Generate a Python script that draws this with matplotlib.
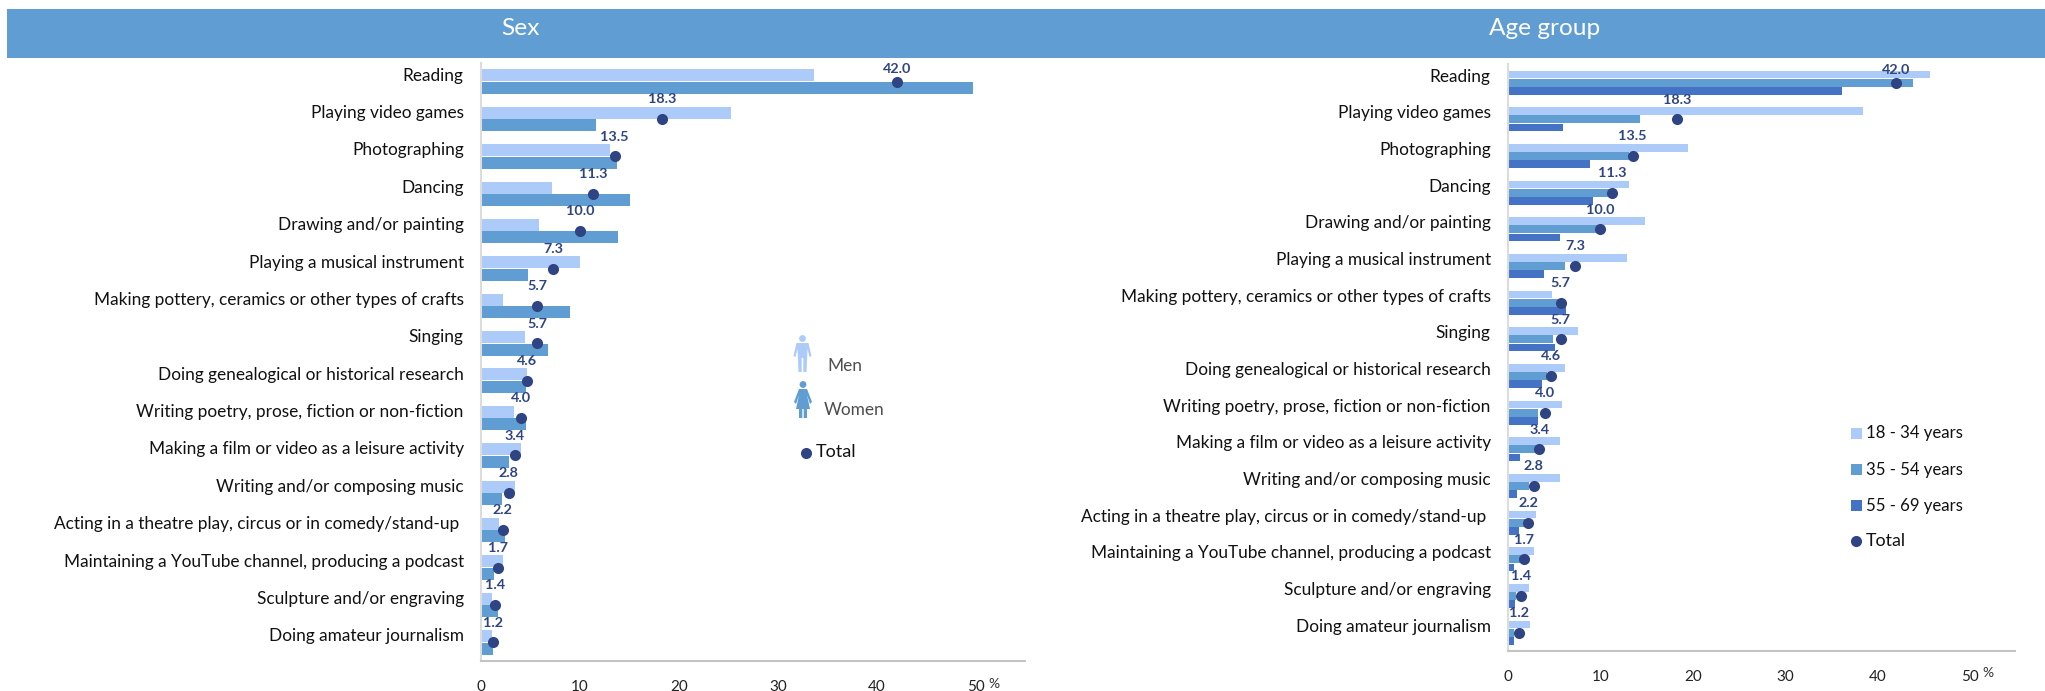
import numpy as np
import matplotlib
matplotlib.use('Agg')
import matplotlib.pyplot as plt
from matplotlib.patches import Circle, Polygon, Rectangle
from matplotlib.transforms import ScaledTranslation

plt.rcParams['font.family'] = ['Lato', 'DejaVu Sans']

''' values read from the picture '''
activities = ['Reading', 'Playing video games', 'Photographing', 'Dancing',
              'Drawing and/or painting', 'Playing a musical instrument',
              'Making pottery, ceramics or other types of crafts', 'Singing',
              'Doing genealogical or historical research',
              'Writing poetry, prose, fiction or non-fiction',
              'Making a film or video as a leisure activity',
              'Writing and/or composing music',
              'Acting in a theatre play, circus or in comedy/stand-up ',
              'Maintaining a YouTube channel, producing a podcast',
              'Sculpture and/or engraving', 'Doing amateur journalism']

total = [42.0, 18.3, 13.5, 11.3, 10.0, 7.3, 5.7, 5.7, 4.6, 4.0, 3.4, 2.8, 2.2, 1.7, 1.4, 1.2]

men = [33.6, 25.3, 13.0, 7.2, 5.9, 10.0, 2.2, 4.4, 4.6, 3.3, 4.0, 3.4, 1.8, 2.2, 1.1, 1.1]
women = [49.7, 11.6, 13.75, 15.1, 13.8, 4.7, 9.0, 6.8, 4.5, 4.5, 2.8, 2.1, 2.4, 1.3, 1.7, 1.25]

age_18_34 = [45.7, 38.4, 19.5, 13.1, 14.8, 12.9, 4.8, 7.6, 6.2, 5.8, 5.6, 5.6, 3.0, 2.8, 2.3, 2.4]
age_35_54 = [43.8, 14.3, 13.1, 11.3, 9.7, 6.2, 5.6, 4.9, 4.2, 3.2, 3.2, 2.3, 1.8, 1.4, 0.9, 0.7]
age_55_69 = [36.1, 5.9, 8.9, 9.2, 5.6, 3.9, 6.3, 5.1, 3.7, 3.2, 1.3, 1.0, 1.2, 0.7, 0.8, 0.6]

x_ticks = [0, 10, 20, 30, 40, 50]

LIGHT = '#adcbf8'
MID = '#5f9dd2'
DARK = '#4472c4'
NAVY = '#2f4583'
BANNER = '#609dd2'

W, H = 2045, 691
fig = plt.figure(figsize=(W/100., H/100.), dpi=100)


def add_panel(left, right, top, bottom, xmax, series, colors, bar_h):
    ax = fig.add_axes([left/W, 1-bottom/H, (right-left)/W, (bottom-top)/H])
    y = np.arange(len(activities))
    n = len(series)
    for k in range(n):
        ax.barh(y + (k-(n-1)/2.)*bar_h, series[k], height=bar_h*0.96, color=colors[k], zorder=2)
    ax.plot(total, y, 'o', color=NAVY, ms=8, mew=0, zorder=4)
    for i in range(len(total)):
        # the first label sits closer to its dot in the original
        off = 9.4 if i == 0 else 14.2
        ax.annotate('%.1f' % total[i], (total[i], y[i]), xytext=(0, off), textcoords='offset points',
                    ha='center', va='center', fontsize=10.4, fontweight='bold', color=NAVY, zorder=5)
    ax.set_ylim(len(activities)-0.5, -0.5)
    ax.set_xlim(0, xmax)
    ax.set_xticks(x_ticks)
    ax.set_yticks(y)
    ax.set_yticklabels(activities, fontsize=12.4, color='#111111')
    ax.tick_params(axis='y', length=0, pad=12.5)
    up = ScaledTranslation(0, 6/100., fig.dpi_scale_trans)
    for lab in ax.get_yticklabels():
        lab.set_verticalalignment('center')
        lab.set_transform(lab.get_transform() + up)
    ax.tick_params(axis='x', length=0, pad=14, labelsize=11, labelcolor='#222222')
    ax.spines['top'].set_visible(False)
    ax.spines['right'].set_visible(False)
    ax.spines['left'].set_color('#dcdcdc')
    ax.spines['left'].set_linewidth(1.5)
    ax.spines['bottom'].set_color('#c4c4c4')
    ax.spines['bottom'].set_linewidth(1.5)
    return ax


axL = add_panel(481, 1025, 63, 661, (1025-481)/9.9, [men, women], [LIGHT, MID], 0.335)
axR = add_panel(1508, 2015, 64.3, 651, (2015-1508)/9.24, [age_18_34, age_35_54, age_55_69],
                [LIGHT, MID, DARK], 0.222)

# overlay in pixel coordinates for banner, legends and the loose texts
ov = fig.add_axes([0, 0, 1, 1], zorder=10)
ov.set_xlim(0, W)
ov.set_ylim(H, 0)
ov.axis('off')
ov.patch.set_alpha(0)

ov.add_patch(Rectangle((7, 9), W-7, 49, color=BANNER, lw=0))
ov.text(520, 28, 'Sex', color='white', fontsize=17.6, ha='center', va='center')
ov.text(1545, 28, 'Age group', color='white', fontsize=17.6, ha='center', va='center')

ov.text(994, 684, '%', fontsize=10, ha='center', va='center', color='#333333')
ov.text(1988, 673, '%', fontsize=10, ha='center', va='center', color='#333333')


def person(cx, top, col, woman=False):
    ov.add_patch(Circle((cx, top+3.5), 3.4, color=col, lw=0))
    if woman:
        body = [(cx-4, top+8), (cx+4, top+8), (cx+9, top+21), (cx+7, top+23), (cx+4, top+14),
                (cx+7, top+28), (cx+4, top+28), (cx+4, top+37), (cx+0.7, top+37), (cx+0.7, top+28),
                (cx-0.7, top+28), (cx-0.7, top+37), (cx-4, top+37), (cx-4, top+28), (cx-7, top+28),
                (cx-4, top+14), (cx-7, top+23), (cx-9, top+21)]
    else:
        body = [(cx-6, top+8), (cx+6, top+8), (cx+9, top+21), (cx+7, top+22), (cx+5, top+14),
                (cx+4, top+37), (cx+0.8, top+37), (cx+0.8, top+23), (cx-0.8, top+23), (cx-0.8, top+37),
                (cx-4, top+37), (cx-5, top+14), (cx-7, top+22), (cx-9, top+21)]
    ov.add_patch(Polygon(body, closed=True, color=col, lw=0))


person(802.5, 335, LIGHT)
person(803, 381, MID, woman=True)
ov.text(827, 366, 'Men', fontsize=12.4, color='#4d4d4d', va='center')
ov.text(824, 410, 'Women', fontsize=12.4, color='#4d4d4d', va='center')
ov.plot([806], [452.5], 'o', color=NAVY, ms=8, mew=0)
ov.text(816, 452, 'Total', fontsize=13, color='#111111', va='center')

leg_y = [433, 469.5, 505.5]
leg_names = ['18 - 34 years', '35 - 54 years', '55 - 69 years']
leg_cols = [LIGHT, MID, DARK]
for k in range(3):
    ov.add_patch(Rectangle((1851, leg_y[k]-5.5), 11, 11, color=leg_cols[k], lw=0))
    ov.text(1866, leg_y[k], leg_names[k], fontsize=12.1, color='#111111', va='center')
ov.plot([1856.5], [541], 'o', color=NAVY, ms=8, mew=0)
ov.text(1866, 541, 'Total', fontsize=12.8, color='#111111', va='center')

fig.savefig('out.png', dpi=100)
